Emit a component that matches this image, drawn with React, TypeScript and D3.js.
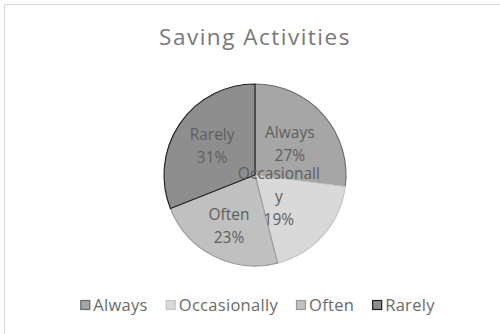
import React, { useEffect, useRef } from "react";
import * as d3 from "d3";

const categories = ["Always", "Occasionally", "Often", "Rarely"];
const values = [27, 19, 23, 31];
const labelLines = [["Always"], ["Occasionall", "y"], ["Often"], ["Rarely"]];
const title = "Saving Activities";

const fills = ["#a6a6a6", "#d9d9d9", "#c0c0c0", "#8e8e8e"];
const strokes = ["#6a6a6a", "#c4c4c4", "#9a9a9a", "#1e1e1e"];
const labelRadiusFactor = [0.51, 0.35, 0.63, 0.57];

const W = 500;
const H = 334;
const FONT = "'Open Sans', 'DejaVu Sans', sans-serif";

export default function App() {
  const ref = useRef<SVGSVGElement | null>(null);

  useEffect(() => {
    const svg = d3.select(ref.current);
    svg.selectAll("*").remove();

    svg.append("rect").attr("x", 0).attr("y", 0).attr("width", W).attr("height", H).attr("fill", "#ffffff");
    svg
      .append("rect")
      .attr("x", 4.5)
      .attr("y", 4.5)
      .attr("width", W + 10)
      .attr("height", H + 10)
      .attr("fill", "none")
      .attr("stroke", "#d9d9d9")
      .attr("stroke-width", 1);

    svg
      .append("text")
      .attr("x", 255)
      .attr("y", 45)
      .attr("text-anchor", "middle")
      .attr("font-family", FONT)
      .attr("font-size", 22.5)
      .attr("letter-spacing", 1.5)
      .attr("fill", "#787878")
      .text(title);

    const cx = 255;
    const cy = 175;
    const r = 91;

    const total = d3.sum(values);
    const pie = d3
      .pie<number>()
      .sort(null)
      .value((d) => d);
    const arcs = pie(values);
    const arc = d3.arc<d3.PieArcDatum<number>>().innerRadius(0).outerRadius(r);

    const g = svg.append("g").attr("transform", `translate(${cx},${cy})`);
    g.selectAll("path.slice")
      .data(arcs)
      .enter()
      .append("path")
      .attr("class", "slice")
      .attr("d", arc as any)
      .attr("fill", (_d, i) => fills[i])
      .attr("stroke", (_d, i) => strokes[i])
      .attr("stroke-width", 1.1)
      .attr("stroke-linejoin", "round");

    const lineH = 23;
    arcs.forEach((a, i) => {
      const lr = r * labelRadiusFactor[i];
      const lArc = d3.arc<d3.PieArcDatum<number>>().innerRadius(lr).outerRadius(lr);
      const [lx, ly] = lArc.centroid(a);
      const lines = [...labelLines[i], `${Math.round((values[i] / total) * 100)}%`];
      const n = lines.length;
      const t = g
        .append("text")
        .attr("text-anchor", "middle")
        .attr("font-family", FONT)
        .attr("font-size", 15.5)
        .attr("fill", "#5e5e5e");
      lines.forEach((ln, k) => {
        t.append("tspan")
          .attr("x", lx)
          .attr("y", ly + (k - (n - 1) / 2) * lineH + 5.5)
          .text(ln);
      });
    });

    // legend
    const lg = svg.append("g");
    const items = categories.map((c, i) => {
      const gi = lg.append("g");
      gi.append("rect")
        .attr("x", 0.5)
        .attr("y", 300.5)
        .attr("width", 9)
        .attr("height", 9)
        .attr("fill", fills[i])
        .attr("stroke", strokes[i])
        .attr("stroke-width", 1.2);
      const tx = gi
        .append("text")
        .attr("x", 13)
        .attr("y", 310.5)
        .attr("font-family", FONT)
        .attr("font-size", 16.5)
        .attr("letter-spacing", 0.3)
        .attr("fill", "#6a6a6a")
        .text(c);
      const w = (tx.node() as SVGTextElement).getComputedTextLength();
      return { gi, w: 13 + w };
    });
    const gap = 18;
    const totalW = d3.sum(items, (d) => d.w) + gap * (items.length - 1);
    let x = 257.5 - totalW / 2;
    items.forEach((it) => {
      it.gi.attr("transform", `translate(${x},0)`);
      x += it.w + gap;
    });
  }, []);

  return (
    <svg
      ref={ref}
      width={W}
      height={H}
      style={{ position: "absolute", left: 0, top: 0, display: "block" }}
    />
  );
}
